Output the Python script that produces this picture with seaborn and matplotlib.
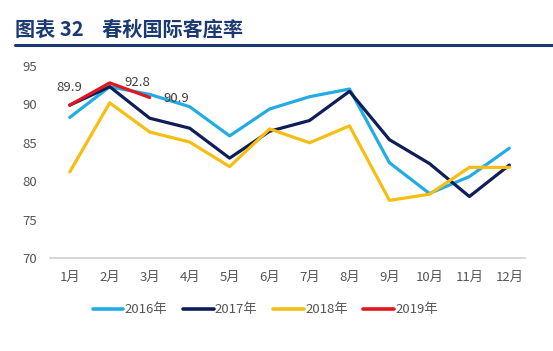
import matplotlib
matplotlib.use('Agg')
import matplotlib.pyplot as plt
import seaborn as sns
import pandas as pd
from matplotlib.lines import Line2D

# ── DATA ──────────────────────────────────────────────────
MONTHS = ['1月', '2月', '3月', '4月', '5月', '6月', '7月', '8月', '9月', '10月', '11月', '12月']
Y2016 = [88.3, 92.3, 91.3, 89.7, 85.9, 89.4, 91.0, 92.0, 82.4, 78.4, 80.6, 84.3]
Y2017 = [89.9, 92.3, 88.2, 86.9, 83.0, 86.5, 87.9, 91.7, 85.4, 82.3, 78.0, 82.1]
Y2018 = [81.2, 90.2, 86.4, 85.1, 81.9, 86.8, 85.0, 87.2, 77.5, 78.3, 81.8, 81.8]
Y2019 = [89.9, 92.8, 90.9]
YEARS = ['2016年', '2017年', '2018年', '2019年']
COLORS = ['#22ACE3', '#0F1E58', '#F6BE12', '#E3151D']

rows = []
for yr, vals in zip(YEARS, [Y2016, Y2017, Y2018, Y2019]):
    for i, v in enumerate(vals):
        rows.append({'month': i, 'year': yr, 'rate': v})
df = pd.DataFrame(rows)

sns.set_style('white')
plt.rcParams['font.family'] = ['Noto Sans CJK SC', 'DejaVu Sans']

fig = plt.figure(figsize=(5.53, 3.51), dpi=100)
ax = fig.add_axes([0.09, 0.265, 0.86, 0.547])

sns.lineplot(data=df, x='month', y='rate', hue='year', palette=COLORS,
             linewidth=2.3, ax=ax, legend=False, sort=False)

# data labels on 2019 line
offsets = [(0, 13), (20, 0), (19, -1)]
for i, (v, off) in enumerate(zip(Y2019, offsets)):
    ax.annotate(f'{v:.1f}', (i, v), xytext=off, textcoords='offset points',
                ha='center', va='center', fontsize=9.5, color='#404040')

ax.set_xlim(-0.5, 11.4)
ax.set_ylim(70, 95)
ax.set_yticks([70, 75, 80, 85, 90, 95])
ax.set_xticks(range(12))
ax.set_xticklabels(MONTHS)
ax.set_xlabel(''); ax.set_ylabel('')
ax.tick_params(axis='both', labelsize=9.5, colors='#555555', length=0, pad=9)
for s in ['top', 'right', 'left']:
    ax.spines[s].set_visible(False)
ax.spines['bottom'].set_color('#D0D0D0')
ax.spines['bottom'].set_linewidth(1.2)

handles = [Line2D([0], [0], color=c, lw=2.6) for c in COLORS]
fig.legend(handles, YEARS, loc='center', bbox_to_anchor=(0.48, 0.117), ncol=4,
           frameon=False, fontsize=9.5, handlelength=2.3, handletextpad=0.1,
           columnspacing=1.2, labelcolor='#555555')

# title + rule
fig.text(0.027, 0.918, '图表 32    春秋国际客座率', fontsize=14.5, fontweight='bold',
         color='#1C3A72', ha='left', va='center')
fig.add_artist(Line2D([0.027, 1.0], [0.872, 0.872], color='#1C3A72', lw=2.2,
                      transform=fig.transFigure))

fig.savefig('out.png', dpi=100)
